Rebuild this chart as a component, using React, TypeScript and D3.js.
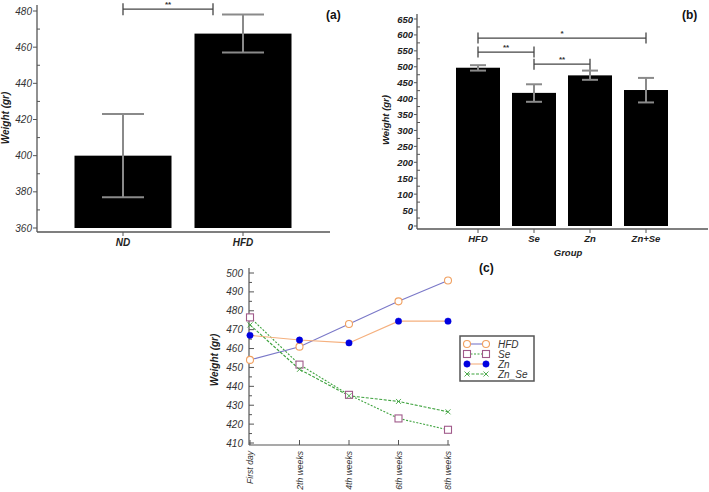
import React from "react";
import * as d3 from "d3";

// Panel (a)
const catsA = ["ND", "HFD"];
const meanA = [400, 467.5];
const lowA = [377, 457];
const highA = [423, 478];
const yTicksA = [360, 380, 400, 420, 440, 460, 480];
const sigA = [{ from: "ND", to: "HFD", level: 481, label: "**" }];

// Panel (b)
const catsB = ["HFD", "Se", "Zn", "Zn+Se"];
const meanB = [497, 418, 473, 427];
const lowB = [488, 390, 459, 388];
const highB = [505, 445, 488, 465];
const yTicksB = [0, 50, 100, 150, 200, 250, 300, 350, 400, 450, 500, 550, 600, 650];
const sigB = [
  { from: "HFD", to: "Zn+Se", level: 590, label: "*" },
  { from: "HFD", to: "Se", level: 546, label: "**" },
  { from: "Se", to: "Zn", level: 508, label: "**" },
];

// Panel (c)
const timesC = ["First day", "2th weeks", "4th weeks", "6th weeks", "8th weeks"];
const hfdC = [454, 461, 473, 485, 496];
const seC = [476.5, 451.5, 435.5, 423, 417];
const znC = [467, 464.5, 463, 474.5, 474.5];
const znSeC = [472.5, 449, 435, 432, 426.5];
const yTicksC = [410, 420, 430, 440, 450, 460, 470, 480, 490, 500];

const FONT = "'Liberation Sans', Arial, sans-serif";
const ERR = "#8a8a8a";
const AX = "#555";

function Bracket({ x1, x2, y, label, h }: any) {
  return (
    <g>
      <line x1={x1} x2={x2} y1={y} y2={y} stroke="#444" strokeWidth={1.3} />
      <line x1={x1} x2={x1} y1={y - h} y2={y + h} stroke="#444" strokeWidth={1.3} />
      <line x1={x2} x2={x2} y1={y - h} y2={y + h} stroke="#444" strokeWidth={1.3} />
      <text x={(x1 + x2) / 2} y={y - 2} textAnchor="middle" fontSize={8} fill="#333" fontFamily={FONT} fontWeight="bold">
        {label}
      </text>
    </g>
  );
}

function PanelA() {
  const y = d3.scaleLinear().domain([360, 480]).range([228, 11]);
  const x = d3.scalePoint().domain(catsA).range([123, 243]);
  const bw = 97;
  const minor = d3.range(370, 480, 20);
  return (
    <g>
      {catsA.map((c, i) => (
        <rect key={c} x={x(c)! - bw / 2} y={y(meanA[i])} width={bw} height={y(360) - y(meanA[i])} fill="#000" />
      ))}
      {catsA.map((c, i) => (
        <g key={"e" + c} stroke={ERR} strokeWidth={2}>
          <line x1={x(c)} x2={x(c)} y1={y(highA[i])} y2={y(lowA[i])} />
          <line x1={x(c)! - 21} x2={x(c)! + 21} y1={y(highA[i])} y2={y(highA[i])} />
          <line x1={x(c)! - 21} x2={x(c)! + 21} y1={y(lowA[i])} y2={y(lowA[i])} />
        </g>
      ))}
      <line x1={37} x2={37} y1={5} y2={232} stroke={AX} strokeWidth={1.3} />
      <line x1={37} x2={330} y1={232} y2={232} stroke={AX} strokeWidth={1.3} />
      {yTicksA.map((t) => (
        <g key={t}>
          <line x1={33} x2={37} y1={y(t)} y2={y(t)} stroke={AX} />
          <text x={32} y={y(t) + 3.5} textAnchor="end" fontSize={10} fontStyle="italic" fill="#333" fontFamily={FONT}>{t}</text>
        </g>
      ))}
      {minor.map((t) => (
        <line key={"m" + t} x1={37} x2={40} y1={y(t)} y2={y(t)} stroke={AX} />
      ))}
      {catsA.map((c) => (
        <g key={"t" + c}>
          <line x1={x(c)} x2={x(c)} y1={232} y2={236} stroke={AX} />
          <text x={x(c)} y={246} textAnchor="middle" fontSize={10} fontWeight="bold" fontStyle="italic" fill="#222" fontFamily={FONT}>{c}</text>
        </g>
      ))}
      <text transform="translate(9,118) rotate(-90)" textAnchor="middle" fontSize={10} fontWeight="bold" fontStyle="italic" fill="#222" fontFamily={FONT}>Weight (gr)</text>
      {sigA.map((s, i) => (
        <Bracket key={i} x1={x(s.from)} x2={x(s.to) - 30} y={y(s.level) + 0} label={s.label} h={6} />
      ))}
      <text x={326} y={19} fontSize={12} fontWeight="bold" fill="#111" fontFamily={FONT}>(a)</text>
    </g>
  );
}

function PanelB() {
  const y = d3.scaleLinear().domain([0, 650]).range([226, 19]);
  const x = d3.scalePoint().domain(catsB).range([478, 646]);
  const bw = 44;
  const minor = d3.range(25, 650, 50);
  return (
    <g>
      {catsB.map((c, i) => (
        <rect key={c} x={x(c)! - bw / 2} y={y(meanB[i])} width={bw} height={y(0) - y(meanB[i])} fill="#000" />
      ))}
      {catsB.map((c, i) => (
        <g key={"e" + c} stroke={ERR} strokeWidth={2}>
          <line x1={x(c)} x2={x(c)} y1={y(highB[i])} y2={y(lowB[i])} />
          <line x1={x(c)! - 8} x2={x(c)! + 8} y1={y(highB[i])} y2={y(highB[i])} />
          <line x1={x(c)! - 8} x2={x(c)! + 8} y1={y(lowB[i])} y2={y(lowB[i])} />
        </g>
      ))}
      <line x1={417} x2={417} y1={14} y2={229} stroke={AX} strokeWidth={1.3} />
      <line x1={417} x2={708} y1={229} y2={229} stroke={AX} strokeWidth={1.3} />
      {yTicksB.map((t) => (
        <g key={t}>
          <line x1={414} x2={417} y1={y(t)} y2={y(t)} stroke={AX} />
          <text x={413} y={y(t) + 3.5} textAnchor="end" fontSize={9.5} fontWeight="bold" fontStyle="italic" fill="#222" fontFamily={FONT}>{t}</text>
        </g>
      ))}
      {minor.map((t) => (
        <line key={"m" + t} x1={417} x2={420} y1={y(t)} y2={y(t)} stroke={AX} />
      ))}
      {catsB.map((c) => (
        <g key={"t" + c}>
          <line x1={x(c)} x2={x(c)} y1={229} y2={233} stroke={AX} />
          <text x={x(c)} y={242} textAnchor="middle" fontSize={9.5} fontWeight="bold" fontStyle="italic" fill="#222" fontFamily={FONT}>{c}</text>
        </g>
      ))}
      <text x={568} y={256} textAnchor="middle" fontSize={9.5} fontWeight="bold" fontStyle="italic" fill="#222" fontFamily={FONT}>Group</text>
      <text transform="translate(389,120) rotate(-90)" textAnchor="middle" fontSize={9.5} fontWeight="bold" fontStyle="italic" fill="#222" fontFamily={FONT}>Weight (gr)</text>
      {sigB.map((s, i) => (
        <Bracket key={i} x1={x(s.from)} x2={x(s.to)} y={y(s.level)} label={s.label} h={5.5} />
      ))}
      <text x={682} y={19} fontSize={12} fontWeight="bold" fill="#111" fontFamily={FONT}>(b)</text>
    </g>
  );
}

const seriesC = [
  { name: "HFD", values: hfdC, line: "#7a78c8", dash: "", marker: "circle", mStroke: "#f0a060", mFill: "#fff" },
  { name: "Se", values: seC, line: "#3fa33f", dash: "2,1.5", marker: "square", mStroke: "#a05a8a", mFill: "#fff" },
  { name: "Zn", values: znC, line: "#f5b07e", dash: "", marker: "dot", mStroke: "#0000e0", mFill: "#0000e0" },
  { name: "Zn_Se", values: znSeC, line: "#3fa33f", dash: "3,1.5", marker: "x", mStroke: "#3fa33f", mFill: "none" },
];

function Marker({ type, x, y, stroke, fill }: any) {
  if (type === "circle") return <circle cx={x} cy={y} r={3.5} fill={fill} stroke={stroke} strokeWidth={1.1} />;
  if (type === "square") return <rect x={x - 3.5} y={y - 3.5} width={7} height={7} fill={fill} stroke={stroke} strokeWidth={1.1} />;
  if (type === "dot") return <circle cx={x} cy={y} r={3.2} fill={fill} stroke={stroke} strokeWidth={0.5} />;
  return (
    <g stroke={stroke} strokeWidth={0.9}>
      <line x1={x - 2.5} x2={x + 2.5} y1={y - 2.5} y2={y + 2.5} />
      <line x1={x - 2.5} x2={x + 2.5} y1={y + 2.5} y2={y - 2.5} />
    </g>
  );
}

function PanelC() {
  const y = d3.scaleLinear().domain([410, 500]).range([443, 273]);
  const x = d3.scalePoint().domain(timesC).range([250, 448]);
  const line = d3.line<number>().x((_, i) => x(timesC[i])!).y((d) => y(d));
  const minor = d3.range(415, 500, 10);
  return (
    <g>
      <line x1={249} x2={249} y1={268} y2={445} stroke={AX} strokeWidth={1.2} />
      <line x1={249} x2={450} y1={445} y2={445} stroke={AX} strokeWidth={1.2} />
      {yTicksC.map((t) => (
        <g key={t}>
          <line x1={249} x2={254} y1={y(t)} y2={y(t)} stroke={AX} />
          <text x={243} y={y(t) + 3.5} textAnchor="end" fontSize={10} fontStyle="italic" fill="#333" fontFamily={FONT}>{t}</text>
        </g>
      ))}
      {minor.map((t) => (
        <line key={"m" + t} x1={249} x2={252} y1={y(t)} y2={y(t)} stroke={AX} />
      ))}
      {timesC.map((c) => (
        <g key={c}>
          <line x1={x(c)} x2={x(c)} y1={445} y2={440} stroke={AX} />
          <text transform={`translate(${x(c)! + 3},451) rotate(-90)`} textAnchor="end" fontSize={8.6} fontStyle="italic" fill="#333" fontFamily={FONT}>{c}</text>
        </g>
      ))}
      <text transform="translate(218,360) rotate(-90)" textAnchor="middle" fontSize={10} fontWeight="bold" fontStyle="italic" fill="#222" fontFamily={FONT}>Weight (gr)</text>
      {seriesC.map((s) => (
        <path key={s.name} d={line(s.values)!} fill="none" stroke={s.line} strokeWidth={1.1} strokeDasharray={s.dash} />
      ))}
      {seriesC.map((s) =>
        s.values.map((v, i) => (
          <Marker key={s.name + i} type={s.marker} x={x(timesC[i])} y={y(v)} stroke={s.mStroke} fill={s.mFill} />
        ))
      )}
      <text x={479} y={272} fontSize={12} fontWeight="bold" fill="#111" fontFamily={FONT}>(c)</text>
      <rect x={460} y={336} width={74} height={45} fill="#fff" stroke="#555" strokeWidth={1.5} />
      {seriesC.map((s, i) => {
        const ly = 344 + i * 10;
        return (
          <g key={"lg" + s.name}>
            <line x1={467} x2={486} y1={ly} y2={ly} stroke={s.line} strokeWidth={1.1} strokeDasharray={s.dash} />
            <Marker type={s.marker} x={467} y={ly} stroke={s.mStroke} fill={s.mFill} />
            <Marker type={s.marker} x={486} y={ly} stroke={s.mStroke} fill={s.mFill} />
            <text x={498} y={ly + 3.5} fontSize={10} fontStyle="italic" fill="#333" fontFamily={FONT}>{s.name}</text>
          </g>
        );
      })}
    </g>
  );
}

export default function App() {
  return (
    <svg width={709} height={492} style={{ position: "absolute", left: 0, top: 0, background: "#fff" }}>
      <rect width={709} height={492} fill="#fff" />
      <PanelA />
      <PanelB />
      <PanelC />
    </svg>
  );
}
